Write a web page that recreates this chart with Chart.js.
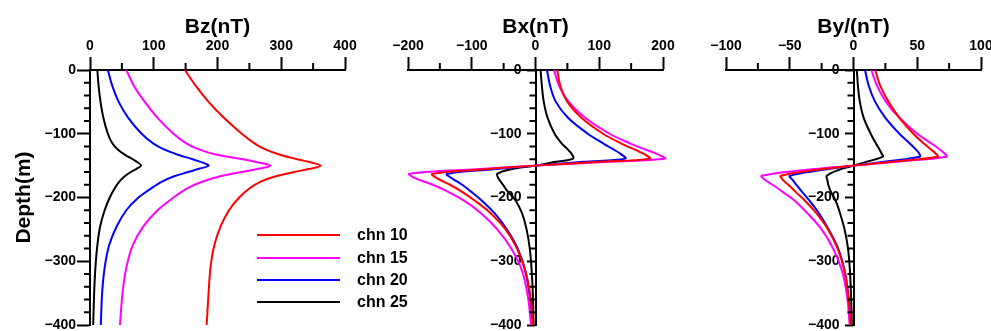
<!DOCTYPE html>
<html lang="en">
<head>
<meta charset="UTF-8">
<title>Bz / Bx / By depth profiles</title>
<script src="https://cdn.jsdelivr.net/npm/chart.js@4.4.0/dist/chart.umd.min.js"></script>
<style>
    body { margin: 0; background: #fff; }
    #wrap { position: relative; width: 991px; height: 331px; overflow: hidden; }
    canvas { position: absolute; top: 0; }
    #legend { position: absolute; left: 257px; top: 224px; font: bold 16px "Liberation Sans", Arial, sans-serif; color: #000; }
    .item { height: 22.4px; display: flex; align-items: center; }
    .item .line { width: 83px; height: 2px; margin-right: 17px; }
</style>
</head>
<body>
<div id="wrap">
    <canvas id="bz" width="360" height="331" style="left:0px"></canvas>
    <canvas id="bx" width="300" height="331" style="left:380px"></canvas>
    <canvas id="by" width="291" height="331" style="left:700px"></canvas>
    <div id="legend"></div>
</div>
<script>
// series
const seriesNames = ['chn 10', 'chn 15', 'chn 20', 'chn 25'];
const seriesColors = ['#ff0000', '#ff00ff', '#0000ff', '#000000'];

// Bz panel
const depthBz = [0, -25, -50, -75, -100, -115, -125, -133, -140, -145, -150, -155, -160, -167, -175, -185, -200, -220, -245, -275, -310, -350, -400];
const bz10 = [149, 166, 186, 210, 238, 258, 276, 298, 325, 347, 362, 345, 320, 290, 268, 251, 234, 218, 205, 195, 189, 186, 183];
const bz15 = [57, 69, 86, 106, 131, 151, 172, 199, 240, 264, 283, 264, 238, 203, 177, 154, 131, 106, 84, 67, 57, 51, 47];
const bz20 = [28, 35, 45, 60, 81, 99, 117, 138, 161, 176, 186, 171, 154, 131, 113, 97, 76, 57, 42, 30, 23, 19, 17];
const bz25 = [11.5, 13.5, 16.5, 21, 28, 35, 44, 55, 67, 75, 80, 73, 64, 54, 46, 39, 31, 23, 16, 11.5, 8.5, 6.5, 5];

// Bx panel
const depthBx = [0, -25, -50, -75, -100, -115, -125, -132, -139, -144, -150, -156, -163, -170, -180, -190, -205, -225, -250, -280, -315, -355, -400];
const bx10 = [34, 39, 50, 72, 106, 134, 156, 171, 179, 100, 0, -85, -162, -154, -134, -117, -95, -70, -47, -29, -16, -8, -4];
const bx15 = [29, 37, 52, 78, 116, 148, 173, 191, 203, 115, 0, -100, -199, -188, -161, -139, -112, -85, -60, -38, -21, -12, -7];
const bx20 = [18, 23, 32, 51, 82, 106, 123, 134, 141, 75, 0, -70, -139, -131, -115, -102, -84, -64, -45, -28, -16, -9, -4];
const bx25 = [8, 10, 13, 19, 30, 41, 51, 57, 59, 32, 0, -40, -60, -58, -51, -44, -31, -21, -14, -9, -6, -4, -3];

// By panel
const depthBy = [0, -25, -50, -75, -100, -115, -125, -131, -136, -143, -150, -157, -166, -173, -182, -192, -205, -225, -250, -280, -315, -355, -400];
const by10 = [17, 21, 27.5, 36, 47, 55, 61, 64.5, 66, 34, 0, -30, -57, -55, -50, -45, -38, -29, -20, -12.5, -7, -4, -2];
const by15 = [14, 18.5, 25.5, 36, 50, 61, 68, 71.5, 73, 38, 0, -38, -72, -69, -62, -55, -46, -36, -25, -16, -9, -5, -3];
const by20 = [9, 12, 17, 25, 36, 44, 49, 51.5, 52, 27, 0, -25, -50, -47.5, -44, -40, -34.5, -27, -19.5, -12, -7, -4, -2];
const by25 = [2.6, 3.5, 5, 8, 13.5, 17.5, 20.5, 22, 23, 12, 0, -12, -21, -20.5, -19.5, -17.5, -14, -10.5, -7, -4.3, -2.8, -1.9, -1.3];

Chart.defaults.font.family = '"Liberation Sans", Arial, sans-serif';
Chart.defaults.font.weight = 'bold';
Chart.defaults.color = '#000';

const fmt = v => String(v).replace('-', '\u2212');
// labels right of a centred axis need a gap before the tick marks
const fmtGap = v => fmt(v) + '\u2002\u2002';

// short ticks between the labelled ones
const minorTicks = {
    id: 'minorTicks',
    afterDraw(chart, args, o) {
        const { ctx, chartArea } = chart;
        const x = chart.scales.x, y = chart.scales.y;
        ctx.save();
        ctx.strokeStyle = '#000';
        ctx.lineWidth = 2;
        for (let v = x.min; v <= x.max; v += o.xStep) {
            if (v % o.xMajor === 0) continue;
            const px = x.getPixelForValue(v);
            ctx.beginPath();
            ctx.moveTo(px, chartArea.top);
            ctx.lineTo(px, chartArea.top - o.xLen);
            ctx.stroke();
        }
        const ax = o.yAtZero ? x.getPixelForValue(0) : chartArea.left;
        for (let v = y.min; v <= y.max; v += o.yStep) {
            if (v % 100 === 0) continue;
            const py = y.getPixelForValue(v);
            ctx.beginPath();
            ctx.moveTo(ax, py);
            ctx.lineTo(ax - o.yLen, py);
            ctx.stroke();
        }
        ctx.restore();
    }
};

function makePanel(id, title, xMin, xMax, xMajor, xMinor, depth, series, p) {
    const datasets = series.map((vals, i) => ({
        label: seriesNames[i],
        data: vals.map((v, j) => ({ x: v, y: depth[j] })),
        borderColor: seriesColors[i],
        borderWidth: 2,
        pointRadius: 0,
        showLine: true,
        tension: 0.35,
        clip: false
    }));
    const yScale = {
        type: 'linear',
        min: -400, max: 0,
        position: p.yAtZero ? { x: 0 } : 'left',
        ticks: { stepSize: 100, font: { size: 14 }, padding: p.yPad, callback: p.yAtZero ? fmtGap : fmt },
        grid: { drawOnChartArea: false, tickLength: p.yTick, tickColor: '#000', tickWidth: 2 },
        border: { color: '#000', width: 2 },
        title: { display: !!p.yTitle, text: p.yTitle || '', font: { size: 21 }, padding: { top: 12, bottom: 0 } },
        afterFit(s) {
            if (!p.yAtZero) s.width = 90;
            s.paddingTop = 0; s.paddingBottom = 0;
        }
    };
    new Chart(document.getElementById(id), {
        type: 'scatter',
        data: { datasets },
        options: {
            responsive: false,
            animation: false,
            devicePixelRatio: 1,
            layout: { padding: { left: p.left, right: p.right, top: 0, bottom: 6 } },
            plugins: {
                legend: { display: false },
                tooltip: { enabled: false },
                minorTicks: { xStep: xMinor, xMajor: xMajor, xLen: 7, yStep: 20, yLen: 6, yAtZero: p.yAtZero }
            },
            scales: {
                x: {
                    type: 'linear',
                    position: 'top',
                    min: xMin, max: xMax,
                    ticks: { stepSize: xMajor, font: { size: 14 }, padding: 2, callback: fmt },
                    grid: { drawOnChartArea: false, tickLength: 13, tickColor: '#000', tickWidth: 2 },
                    border: { color: '#000', width: 2 },
                    title: { display: true, text: title, font: { size: 21 }, padding: { top: 15, bottom: 0 } },
                    afterFit(s) {
                        s.height = 70;
                        s.paddingLeft = 0; s.paddingRight = 0;
                    }
                },
                y: yScale
            }
        },
        plugins: [minorTicks]
    });
}

makePanel('bz', 'Bz(nT)', 0, 400, 100, 50, depthBz, [bz10, bz15, bz20, bz25],
    { left: 0, right: 15, yAtZero: false, yTitle: 'Depth(m)', yTick: 13, yPad: 1 });
makePanel('bx', 'Bx(nT)', -200, 200, 100, 50, depthBx, [bx10, bx15, bx20, bx25],
    { left: 28, right: 17, yAtZero: true, yTick: 8, yPad: 7 });
makePanel('by', 'By/(nT)', -100, 100, 50, 25, depthBy, [by10, by15, by20, by25],
    { left: 26, right: 10, yAtZero: true, yTick: 8, yPad: 7 });

// legend
const legend = document.getElementById('legend');
seriesNames.forEach((name, i) => {
    const row = document.createElement('div');
    row.className = 'item';
    row.innerHTML = '<span class="line" style="background:' + seriesColors[i] + '"></span><span>' + name + '</span>';
    legend.appendChild(row);
});
</script>
</body>
</html>
